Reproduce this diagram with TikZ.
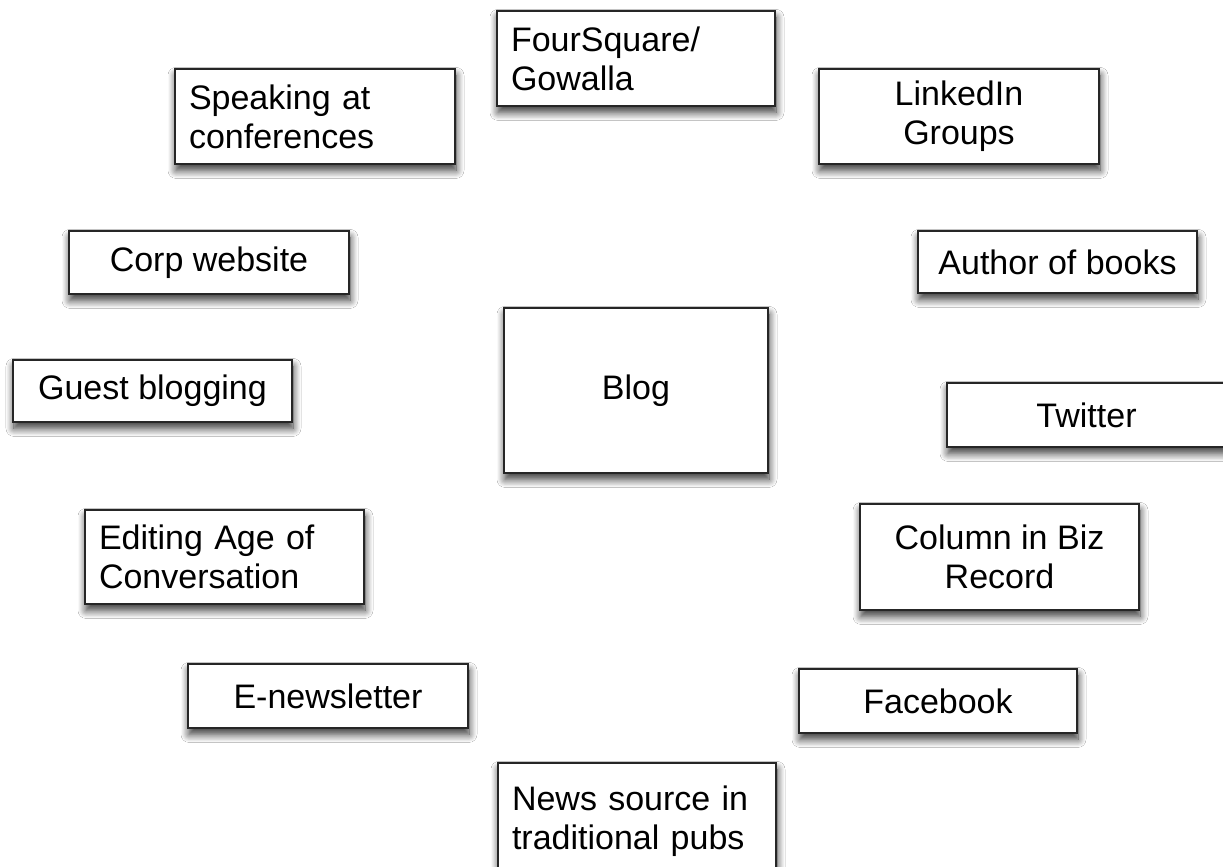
\documentclass[tikz,border=0pt]{standalone}
\usepackage{fontspec}
\setmainfont{Liberation Sans}
\usetikzlibrary{shadows.blur}
\begin{document}
\begin{tikzpicture}[x=0.5pt,y=-0.5pt,
  box/.style={draw=black!85, line width=1pt, fill=white, rectangle,
    inner sep=0pt, font=\fontsize{17}{19.5}\selectfont,
    blur shadow={shadow xshift=0.5pt, shadow yshift=-3.2pt, shadow blur radius=4pt, shadow blur steps=10, shadow opacity=80}},
  cbox/.style={box, align=center},
  lbox/.style={box, align=left, inner xsep=7pt}
]
\fill[white] (0,0) rectangle (1223,867);
\useasboundingbox (0,0) rectangle (1223,867);

\node[lbox, text width=125pt, minimum height=47.5pt] (four) at (636,58.5) {FourSquare/\\Gowalla};
\node[lbox, text width=126pt, minimum height=47.5pt] (speak) at (315,116.5) {Speaking at\\conferences};
\node[cbox, minimum width=140pt, minimum height=47.5pt] (linked) at (959,116.5) {LinkedIn\\Groups};
\node[cbox, minimum width=140pt, minimum height=31.5pt] (corp) at (209,262.5) {Corp website};
\node[cbox, minimum width=139.5pt, minimum height=31pt] (author) at (1057.5,262) {Author of books};
\node[cbox, minimum width=139.5pt, minimum height=31pt] (guest) at (152.5,391) {Guest blogging};
\node[cbox, minimum width=132pt, minimum height=82.5pt] (blog) at (636,390.5) {Blog};
\node[cbox, minimum width=139.5pt, minimum height=32pt] (twitter) at (1086.5,415) {Twitter};
\node[lbox, text width=125.5pt, minimum height=47pt] (editing) at (224.5,557) {Editing Age of\\Conversation};
\node[cbox, minimum width=139.5pt, minimum height=53pt] (column) at (999.5,557) {Column in Biz\\Record};
\node[cbox, minimum width=140pt, minimum height=32pt] (enews) at (328,696) {E-newsletter};
\node[cbox, minimum width=139pt, minimum height=32pt] (facebook) at (938,701) {Facebook};
\node[lbox, text width=125pt, minimum height=58.5pt] (news) at (637,821.5) {News source in\\traditional pubs};
\end{tikzpicture}
\end{document}
